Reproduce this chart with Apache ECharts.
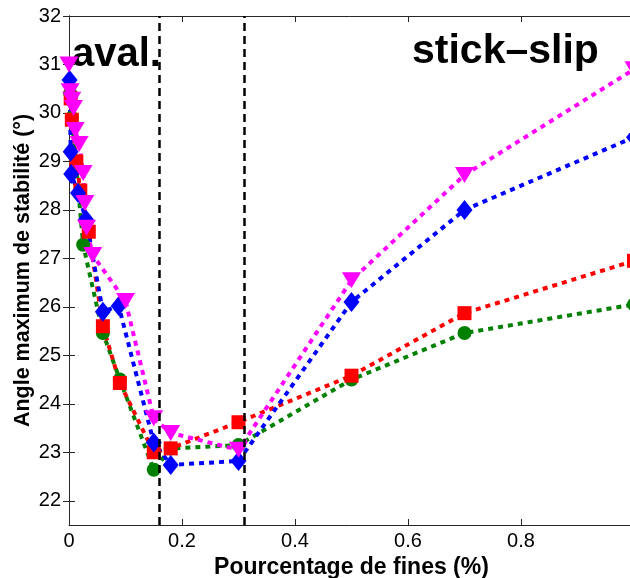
<!DOCTYPE html>
<html>
<head>
<meta charset="utf-8">
<script src="https://cdn.jsdelivr.net/npm/echarts@6/dist/echarts.min.js"></script>
<style>html,body{margin:0;padding:0;background:#fff}#c{width:630px;height:578px}</style>
</head>
<body>
<div id="c"></div>
<script>
const yTicks = [22, 23, 24, 25, 26, 27, 28, 29, 30, 31, 32];
const boundaries = [0.163, 0.308];

const greenX = [0.002, 0.005, 0.012, 0.025, 0.06, 0.09, 0.15, 0.18, 0.30, 0.50, 0.70, 1.0];
const greenY = [30.4, 29.9, 29.0, 27.28, 25.46, 24.5, 22.64, 23.08, 23.15, 24.5, 25.46, 26.05];

const redX = [0.003, 0.005, 0.013, 0.02, 0.035, 0.06, 0.09, 0.15, 0.18, 0.30, 0.50, 0.70, 1.0];
const redY = [30.3, 29.86, 29.0, 28.4, 27.55, 25.6, 24.43, 23.0, 23.08, 23.62, 24.58, 25.87, 26.95];

const blueX = [0.001, 0.003, 0.004, 0.016, 0.03, 0.06, 0.088, 0.15, 0.18, 0.30, 0.50, 0.70, 1.0];
const blueY = [30.68, 29.2, 28.74, 28.35, 27.8, 25.9, 26.02, 23.2, 22.74, 22.82, 26.1, 28.0, 29.5];

const magX = [0, 0.002, 0.005, 0.008, 0.011, 0.018, 0.025, 0.028, 0.031, 0.042, 0.10, 0.15, 0.18, 0.30, 0.50, 0.70, 1.0];
const magY = [31.0, 30.45, 30.27, 30.1, 29.65, 29.36, 28.76, 28.14, 27.63, 27.07, 26.12, 23.7, 23.4, 23.05, 26.55, 28.72, 30.9];

const zip = (xs, ys) => xs.map((x, i) => [x, ys[i]]);
const FONT = '"Liberation Sans", Arial, Helvetica, sans-serif';
const AX = '#262626';

function mkSeries(name, xs, ys, color, symbol, size, rot) {
  return {
    name, type: 'line', data: zip(xs, ys),
    symbol, symbolSize: size, symbolRotate: rot || 0,
    itemStyle: { color },
    lineStyle: { color, width: 4, type: [5, 5], cap: 'butt' },
    clip: false, animation: false
  };
}

const chart = echarts.init(document.getElementById('c'), null, { renderer: 'canvas' });
const axisCommon = {
  axisLine: { show: true, lineStyle: { color: AX, width: 1 } },
  axisTick: { show: true, inside: true, length: 6, lineStyle: { color: AX } },
  splitLine: { show: false }
};
chart.setOption({
  animation: false,
  backgroundColor: '#fff',
  grid: { left: 69, top: 16, width: 565, height: 509, containLabel: false, outerBoundsMode: 'none' },
  xAxis: [
    Object.assign({}, axisCommon, {
      type: 'value', min: 0, max: 1, interval: 0.2, position: 'bottom',
      axisLabel: { fontSize: 20, color: '#000', margin: 6, fontFamily: FONT },
      name: 'Pourcentage de fines (%)', nameLocation: 'middle', nameGap: 28,
      nameTextStyle: { fontSize: 23, fontWeight: 'bold', color: '#000', fontFamily: FONT }
    }),
    Object.assign({}, axisCommon, {
      type: 'value', min: 0, max: 1, interval: 0.2, position: 'top',
      axisLabel: { show: false }
    })
  ],
  yAxis: [
    Object.assign({}, axisCommon, {
      type: 'value', min: 21.5, max: 32, position: 'left',
      axisLabel: { fontSize: 20, color: '#000', margin: 8, fontFamily: FONT, customValues: yTicks },
      axisTick: { show: true, inside: true, length: 6, lineStyle: { color: AX }, customValues: yTicks },
      name: 'Angle maximum de stabilité (°)', nameLocation: 'middle', nameGap: 35, nameRotate: 90,
      nameMoveOverlap: false,
      nameTextStyle: { fontSize: 21.5, fontWeight: 'bold', color: '#000', fontFamily: FONT }
    }),
    Object.assign({}, axisCommon, {
      type: 'value', min: 21.5, max: 32, position: 'right',
      axisLabel: { show: false },
      axisTick: { show: true, inside: true, length: 6, lineStyle: { color: AX }, customValues: yTicks }
    })
  ],
  graphic: [
    { type: 'text', left: 72, top: 35, style: { text: 'aval.', font: 'bold 40px ' + FONT, fill: '#000' } },
    { type: 'text', left: 412, top: 31, style: { text: 'stick–slip', font: 'bold 41px ' + FONT, fill: '#000' } }
  ],
  series: [
    {
      type: 'line', data: [], silent: true,
      markLine: {
        symbol: 'none', silent: true, animation: false,
        label: { show: false },
        lineStyle: { color: '#000', width: 2.5, type: [8, 5] },
        data: boundaries.map(b => ({ xAxis: b }))
      }
    },
    mkSeries('g', greenX, greenY, '#008000', 'circle', 14),
    mkSeries('r', redX, redY, '#ff0000', 'rect', 14),
    mkSeries('b', blueX, blueY, '#0000ff', 'diamond', [16, 20]),
    mkSeries('m', magX, magY, '#ff00ff', 'triangle', [19, 16], 180)
  ]
});
</script>
</body>
</html>
